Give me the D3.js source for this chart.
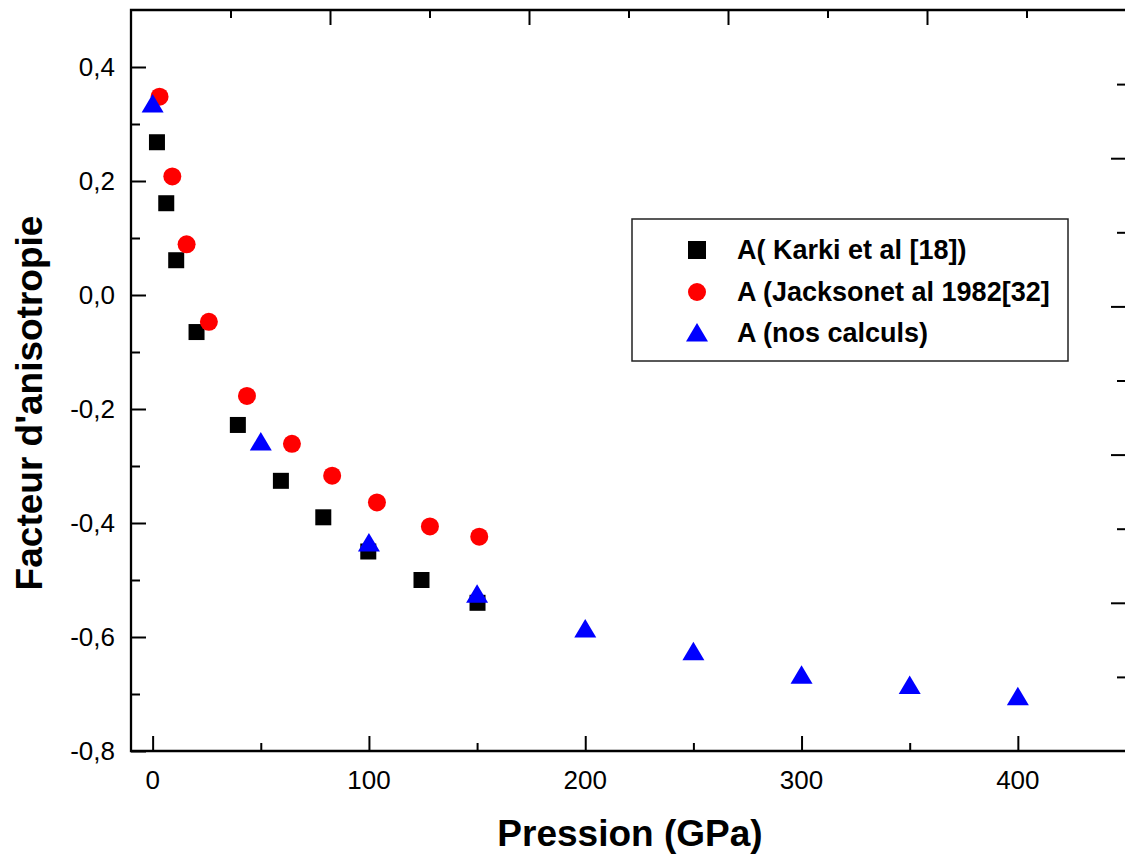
<!DOCTYPE html>
<html>
<head>
<meta charset="utf-8">
<script src="https://cdn.jsdelivr.net/npm/d3@7/dist/d3.min.js"></script>
<style>
    body { margin: 0; background: #fff; }
    svg { display: block; font-family: "Liberation Sans", Arial, sans-serif; }
</style>
</head>
<body>
<div id="id_plot"></div>
<script>
// Pression (GPa) / facteur d'anisotropie
var karkiP = [2, 6.3, 10.9, 20.3, 39.4, 59.3, 78.9, 99.7, 124.3, 150.2];
var karkiA = [0.268, 0.161, 0.061, -0.065, -0.228, -0.326, -0.390, -0.450, -0.500, -0.540];

var jacksonP = [3.2, 9.1, 15.7, 26.0, 43.6, 64.4, 83.0, 103.7, 128.2, 151.0];
var jacksonA = [0.348, 0.208, 0.089, -0.047, -0.177, -0.261, -0.317, -0.364, -0.406, -0.424];

var calcP = [0, 50, 100, 150, 200, 250, 300, 350, 400];
var calcA = [0.335, -0.258, -0.435, -0.525, -0.586, -0.626, -0.667, -0.685, -0.705];

var xMajor = [0, 100, 200, 300, 400];
var xMinor = [50, 150, 250, 350];
var yMajor = [-0.8, -0.6, -0.4, -0.2, 0.0, 0.2, 0.4];
var yMinor = [-0.7, -0.5, -0.3, -0.1, 0.1, 0.3];

var legendLabels = ["A( Karki et al [18])", "A (Jacksonet al 1982[32]", "A (nos calculs)"];

function pairs(xs, ys) {
    return xs.map(function (d, i) { return {x: d, y: ys[i]}; });
}

drawChart();

function drawChart() {
    var svgWidth = 1125, svgHeight = 857;
    var left = 131, right = 1126, top = 10, bottom = 751;

    var svg = d3.select("#id_plot").append("svg")
        .attr("width", svgWidth)
        .attr("height", svgHeight);

    var x = d3.scaleLinear().domain([-10, 450]).range([left, right]);
    var y = d3.scaleLinear().domain([-0.8, 0.5]).range([bottom, top]);

    // second layer axes (top / right) only carry ticks
    var x2 = d3.scaleLinear().domain([0, 10]).range([left, right]);
    var y2 = d3.scaleLinear().domain([0, 10]).range([bottom, top]);

    var fmt = function (d) {
        return d3.format(".1f")(d).replace(".", ",").replace("\u2212", "-");
    };

    // bottom axis
    svg.append("g").attr("transform", "translate(0," + bottom + ")")
        .call(d3.axisBottom(x).tickValues(xMajor).tickSize(-15).tickFormat(""));
    svg.append("g").attr("transform", "translate(0," + bottom + ")")
        .call(d3.axisBottom(x).tickValues(xMinor).tickSize(-8).tickFormat(""));
    svg.selectAll(".xlab")
        .data(xMajor)
        .enter()
        .append("text")
        .attr("class", "xlab")
        .attr("x", function (d) { return x(d); })
        .attr("y", 789)
        .attr("text-anchor", "middle")
        .attr("font-size", 26)
        .text(function (d) { return d; });

    // left axis
    svg.append("g").attr("transform", "translate(" + left + ",0)")
        .call(d3.axisLeft(y).tickValues(yMajor).tickSize(-15).tickFormat(""));
    svg.append("g").attr("transform", "translate(" + left + ",0)")
        .call(d3.axisLeft(y).tickValues(yMinor).tickSize(-9).tickFormat(""));
    svg.selectAll(".ylab")
        .data(yMajor)
        .enter()
        .append("text")
        .attr("class", "ylab")
        .attr("x", 115)
        .attr("y", function (d) { return y(d); })
        .attr("dy", "0.35em")
        .attr("text-anchor", "end")
        .attr("font-size", 26)
        .text(fmt);

    // top axis
    svg.append("g").attr("transform", "translate(0," + top + ")")
        .call(d3.axisTop(x2).tickValues([2, 4, 6, 8, 10]).tickSize(-15).tickFormat(""));
    svg.append("g").attr("transform", "translate(0," + top + ")")
        .call(d3.axisTop(x2).tickValues([1, 3, 5, 7, 9]).tickSize(-8).tickFormat(""));

    // right axis
    svg.append("g").attr("transform", "translate(" + right + ",0)")
        .call(d3.axisRight(y2).tickValues([2, 4, 6, 8]).tickSize(-15).tickFormat(""));
    svg.append("g").attr("transform", "translate(" + right + ",0)")
        .call(d3.axisRight(y2).tickValues([1, 3, 5, 7, 9]).tickSize(-9).tickFormat(""));

    svg.selectAll(".domain").remove();
    svg.selectAll(".tick line").attr("stroke", "#000").attr("stroke-width", 2);

    // frame (right edge sits just outside the picture)
    svg.append("path")
        .attr("d", "M" + left + "," + top + "H" + (right + 2) + "V" + bottom + "H" + left + "Z")
        .attr("fill", "none")
        .attr("stroke", "#000")
        .attr("stroke-width", 2.3);

    // markers
    var triangle = "M0,-10L11,8.5L-11,8.5Z";

    svg.append("g").selectAll("rect")
        .data(pairs(karkiP, karkiA))
        .enter()
        .append("rect")
        .attr("x", function (d) { return x(d.x) - 8; })
        .attr("y", function (d) { return y(d.y) - 8; })
        .attr("width", 16)
        .attr("height", 16)
        .attr("fill", "#000");

    svg.append("g").selectAll("circle")
        .data(pairs(jacksonP, jacksonA))
        .enter()
        .append("circle")
        .attr("cx", function (d) { return x(d.x); })
        .attr("cy", function (d) { return y(d.y); })
        .attr("r", 9)
        .attr("fill", "#ff0000");

    svg.append("g").selectAll("path")
        .data(pairs(calcP, calcA))
        .enter()
        .append("path")
        .attr("transform", function (d) { return "translate(" + x(d.x) + "," + y(d.y) + ")"; })
        .attr("d", triangle)
        .attr("fill", "#0000ff");

    // legend
    var lg = svg.append("g");
    lg.append("rect")
        .attr("x", 632).attr("y", 219)
        .attr("width", 436).attr("height", 142)
        .attr("fill", "#fff")
        .attr("stroke", "#222")
        .attr("stroke-width", 1.5);
    var rows = [250, 292, 333];
    lg.append("rect").attr("x", 688).attr("y", rows[0] - 9).attr("width", 18).attr("height", 18).attr("fill", "#000");
    lg.append("circle").attr("cx", 697).attr("cy", rows[1]).attr("r", 9).attr("fill", "#ff0000");
    lg.append("path").attr("transform", "translate(697," + rows[2] + ")").attr("d", triangle).attr("fill", "#0000ff");
    lg.selectAll("text")
        .data(legendLabels)
        .enter()
        .append("text")
        .attr("x", 737)
        .attr("y", function (d, i) { return rows[i]; })
        .attr("dy", "0.35em")
        .attr("font-size", 27)
        .attr("font-weight", "bold")
        .text(function (d) { return d; });

    // axis titles
    svg.append("text")
        .attr("x", 630)
        .attr("y", 846)
        .attr("text-anchor", "middle")
        .attr("font-size", 37)
        .attr("font-weight", "bold")
        .text("Pression (GPa)");

    svg.append("text")
        .attr("transform", "translate(42,403) rotate(-90)")
        .attr("text-anchor", "middle")
        .attr("font-size", 37)
        .attr("font-weight", "bold")
        .text("Facteur d'anisotropie");
}
</script>
</body>
</html>
